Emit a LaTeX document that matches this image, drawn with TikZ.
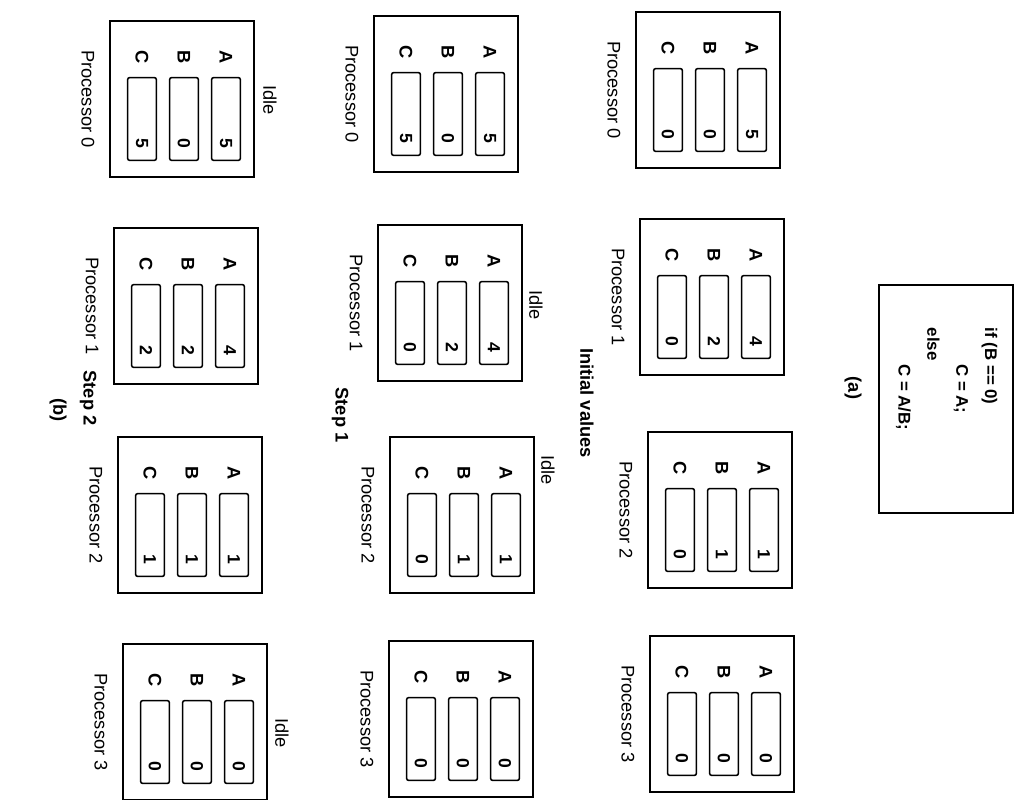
\documentclass[tikz,border=0pt]{standalone}
\usepackage{fontspec}
\setmainfont{Liberation Sans}
\usetikzlibrary{positioning,calc}
\tikzset{
  procbox/.style={rectangle,draw=black,line width=1.3pt,fill=white,
                  minimum width=3.6cm,minimum height=3.9cm,inner sep=0pt},
  regbox/.style={rectangle,draw=black,line width=1.1pt,rounded corners=1.5pt,
                 minimum width=0.72cm,minimum height=2.07cm,inner sep=0pt},
  rtext/.style={rotate=-90,inner sep=1pt},
  reglbl/.style={rtext,font=\fontsize{13}{15}\selectfont\bfseries},
  regval/.style={rtext,font=\fontsize{12.5}{14}\selectfont\bfseries},
  proclbl/.style={rtext,font=\fontsize{13}{15}\selectfont},
  title/.style={rtext,font=\fontsize{13}{15}\selectfont\bfseries},
}
% name, x, y, A, B, C, label
\newcommand{\procunit}[7]{%
  \node[procbox] (#1) at (#2,#3) {};
  \foreach \r/\dx/\v in {A/44/#4,B/2/#5,C/-40/#6} {
    \node[regbox] (#1\r) at (#2+\dx,#3+20) {};
    \node[reglbl] (#1\r lbl) at (#2+\dx,#3-42) {\r};
    \node[regval] (#1\r val) at (#2+\dx,#3+44) {\v};
  }
  \node[proclbl] (#1lbl) at (#2-94,#3) {#7};
}

\begin{document}
\begin{tikzpicture}[x=0.025cm,y=-0.025cm]
  \useasboundingbox (0,0) rectangle (1020,800);

  % (a) the code
  \node[rectangle,draw=black,line width=1.3pt,minimum width=3.33cm,
        minimum height=5.7cm] (code) at (946,399) {};
  \node[rtext,anchor=north west,align=left,
        font=\fontsize{12}{20.5}\selectfont\bfseries] (codetxt) at (999,326)
        {if (B == 0)\\ \hspace*{26pt}C = A;\\ else\\ \hspace*{26pt}C = A/B;};
  \node[title] (capa) at (853,388) {(a)};

  % initial values
  \procunit{init0}{708}{90}{5}{0}{0}{Processor 0}
  \procunit{init1}{712}{297}{4}{2}{0}{Processor 1}
  \procunit{init2}{720}{510}{1}{1}{0}{Processor 2}
  \procunit{init3}{722}{714}{0}{0}{0}{Processor 3}
  \node[title] (inittl) at (587,403) {Initial values};

  % step 1
  \procunit{stepA0}{446}{94}{5}{0}{5}{Processor 0}
  \procunit{stepA1}{450}{303}{4}{2}{0}{Processor 1}
  \procunit{stepA2}{462}{515}{1}{1}{0}{Processor 2}
  \procunit{stepA3}{461}{719}{0}{0}{0}{Processor 3}
  \node[proclbl] (stepA1idle) at (536,305) {Idle};
  \node[proclbl] (stepA2idle) at (548,470) {Idle};
  \node[title] (stepAtl) at (340,415) {Step 1};

  % step 2
  \procunit{stepB0}{182}{99}{5}{0}{5}{Processor 0}
  \procunit{stepB1}{186}{306}{4}{2}{2}{Processor 1}
  \procunit{stepB2}{190}{515}{1}{1}{1}{Processor 2}
  \procunit{stepB3}{195}{722}{0}{0}{0}{Processor 3}
  \node[proclbl] (stepB0idle) at (270,100) {Idle};
  \node[proclbl] (stepB3idle) at (282,733) {Idle};
  \node[title] (stepBtl) at (88,398) {Step 2};
  \node[title] (capb) at (58,410) {(b)};
\end{tikzpicture}
\end{document}
